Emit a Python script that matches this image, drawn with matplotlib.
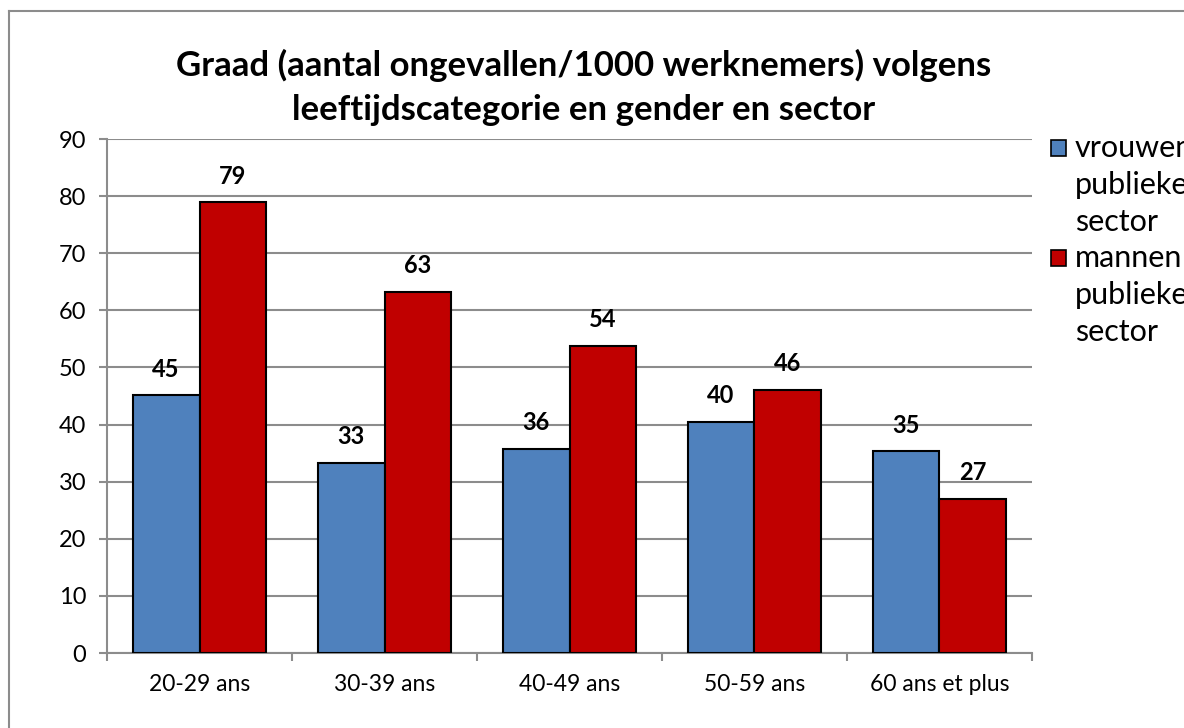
import numpy as np
import matplotlib.pyplot as plt
from matplotlib.lines import Line2D
from matplotlib.patches import Rectangle

plt.rcParams['font.family'] = ['Lato', 'DejaVu Sans']

categories = ["20-29 ans", "30-39 ans", "40-49 ans", "50-59 ans", "60 ans et plus"]
vrouwen = [45.1, 33.3, 35.8, 40.4, 35.3]
mannen = [78.9, 63.3, 53.7, 46.0, 27.0]
series_names = ["vrouwen publieke sector", "mannen publieke sector"]
yticks = list(range(0, 91, 10))

BLUE = "#4F81BD"
RED = "#C00000"
GRID = "#8C8C8C"

fig = plt.figure(figsize=(11.84, 7.28), dpi=100)
ax = fig.add_axes([0.0904, 0.103, 0.7812, 0.706])

x = np.arange(len(categories))
w = 0.362
b1 = ax.bar(x - w / 2, vrouwen, w, color=BLUE, edgecolor="black", linewidth=1.5, zorder=3)
b2 = ax.bar(x + w / 2, mannen, w, color=RED, edgecolor="black", linewidth=1.5, zorder=3)

for bars, vals in ((b1, vrouwen), (b2, mannen)):
    for r, v in zip(bars, vals):
        ax.annotate(f"{v:.0f}", (r.get_x() + r.get_width() / 2, v), xytext=(0, 19),
                    textcoords="offset points", ha="center", va="center",
                    fontsize=17, fontweight="bold", zorder=4)

ax.set_xlim(-0.5, len(categories) - 0.5)
ax.set_ylim(0, 90)
ax.set_yticks(yticks)
ax.yaxis.grid(True, color=GRID, linewidth=1.5, zorder=0)
ax.set_xticks(x)
ax.set_xticklabels(categories, fontsize=16.5)
ax.set_xticks(np.arange(-0.5, len(categories)), minor=True)
ax.tick_params(axis="x", which="major", length=0, pad=15)
ax.tick_params(axis="x", which="minor", length=6, width=1.5, color=GRID, direction="out")
ax.tick_params(axis="y", length=6, width=1.5, color=GRID, labelsize=17, pad=9)
for side in ("top", "right"):
    ax.spines[side].set_visible(False)
for side in ("left", "bottom"):
    ax.spines[side].set_color(GRID)
    ax.spines[side].set_linewidth(1.5)

fig.text(0.493, 0.91, "Graad (aantal ongevallen/1000 werknemers) volgens", ha="center", va="center",
         fontsize=25, fontweight="bold")
fig.text(0.493, 0.849, "leeftijdscategorie en gender en sector", ha="center", va="center",
         fontsize=25, fontweight="bold")

# legend, right side (cut off by the picture edge like the original)
leg_colors = [BLUE, RED]
leg_y = [1 - 148 / 728, 1 - 258 / 728]
line_h = 37 / 728
for name, col, y0 in zip(series_names, leg_colors, leg_y):
    fig.patches.append(Rectangle((1051 / 1184, y0 - 8 / 728), 15 / 1184, 16 / 728,
                                 transform=fig.transFigure, facecolor=col, edgecolor="black",
                                 linewidth=1.2))
    for i, word in enumerate(name.split()):
        fig.text(1075 / 1184, y0 - i * line_h, word, ha="left", va="center", fontsize=22)

# chart frame (top and left edges visible)
fig.add_artist(Line2D([9 / 1184, 1.0], [1 - 11 / 728, 1 - 11 / 728], color="#8C8C8C", linewidth=1.5))
fig.add_artist(Line2D([9 / 1184, 9 / 1184], [0.0, 1 - 11 / 728], color="#8C8C8C", linewidth=1.5))

fig.savefig("out.png", dpi=100)
